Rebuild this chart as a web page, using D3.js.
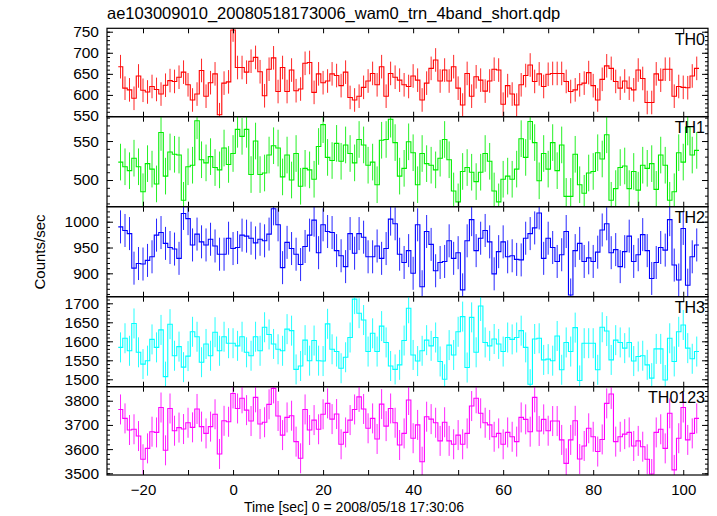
<!DOCTYPE html>
<html><head><meta charset="utf-8">
<script src="https://cdn.jsdelivr.net/npm/d3@7"></script>
<style>body{margin:0;background:#fff}svg{display:block}</style>
</head><body>
<svg id="c" width="717" height="516"></svg>
<script>
const times = [-25,-24,-23,-22,-21,-20,-19,-18,-17,-16,-15,-14,-13,-12,-11,-10,-9,-8,-7,-6,-5,-4,-3,-2,-1,
0,1,2,3,4,5,6,7,8,9,10,11,12,13,14,15,16,17,18,19,20,21,22,23,24,25,26,27,28,29,30,31,32,33,34,35,36,37,38,39,
40,41,42,43,44,45,46,47,48,49,50,51,52,53,54,55,56,57,58,59,60,61,62,63,64,65,66,67,68,69,70,71,72,73,74,75,76,77,78,79,
80,81,82,83,84,85,86,87,88,89,90,91,92,93,94,95,96,97,98,99,100,101,102,103];

const th0 = [667,616,612,592,645,611,607,620,613,602,623,634,632,642,654,624,588,602,658,597,629,650,553,628,631,
754,665,665,654,680,689,655,598,661,688,608,665,608,659,610,614,675,677,606,650,629,633,650,646,622,654,594,588,597,618,633,651,624,667,597,651,642,635,624,620,
645,635,588,628,663,683,633,659,633,667,616,576,651,597,643,635,609,633,661,659,578,622,602,576,624,646,671,632,650,620,649,651,651,651,632,608,612,624,628,653,
622,588,637,669,663,632,616,633,616,612,659,639,582,582,650,635,661,661,597,620,618,617,645,663];

const th1 = [523,517,512,528,517,485,521,514,495,561,505,536,533,532,474,517,519,576,526,522,530,516,513,541,520,
534,565,556,565,507,550,507,509,532,544,541,504,532,500,534,492,515,513,501,543,571,529,525,547,524,545,534,522,552,545,519,523,494,551,552,578,548,505,515,549,
535,494,534,521,519,513,528,552,526,486,472,511,516,510,498,510,534,524,486,472,501,505,501,514,553,529,575,548,499,534,514,548,512,545,479,479,533,494,483,509,
511,535,527,558,474,489,516,518,489,511,487,519,515,521,488,532,519,474,485,535,523,568,532,538];

const th2 = [990,983,977,910,919,918,925,932,974,979,958,950,947,929,1016,1006,955,976,961,955,966,953,937,937,968,
948,950,974,972,968,959,966,963,976,1025,994,911,960,948,937,917,952,974,1003,940,994,981,979,944,934,913,977,939,977,970,932,932,953,929,948,1005,996,937,921,944,
900,994,874,981,956,905,921,923,963,929,940,868,963,1004,944,968,983,961,899,942,961,932,934,927,926,968,977,988,1017,929,968,950,923,936,981,858,944,958,923,930,
923,941,984,996,940,946,913,942,972,923,936,975,944,890,921,950,945,1004,916,887,987,877,932,955];

const th3 = [1584,1608,1575,1647,1571,1540,1549,1605,1584,1630,1507,1645,1562,1586,1532,1561,1625,1612,1545,1593,1562,1624,1575,1612,1595,
1595,1588,1612,1571,1562,1612,1575,1637,1618,1593,1579,1575,1632,1628,1526,1535,1603,1549,1602,1549,1548,1646,1579,1573,1529,1558,1610,1711,1674,1656,1573,1621,1573,1640,1597,1535,1526,1538,1602,1687,
1564,1548,1575,1603,1588,1610,1547,1500,1590,1564,1625,1665,1531,1663,1571,1693,1597,1588,1606,1593,1573,1610,1605,1610,1628,1584,1487,1606,1608,1551,1553,1549,1614,1525,1597,1573,1636,1497,1595,1595,
1595,1525,1637,1627,1551,1603,1597,1582,1597,1548,1560,1562,1538,1503,1580,1580,1498,1608,1547,1625,1643,1582,1554,1573];

const th0123 = [3764,3727,3679,3682,3654,3558,3603,3672,3669,3772,3595,3768,3676,3689,3683,3709,3690,3766,3693,3665,3693,3744,3580,3717,3713,
3830,3768,3810,3761,3716,3814,3704,3711,3785,3851,3737,3658,3731,3738,3631,3562,3764,3679,3720,3682,3744,3789,3724,3745,3620,3669,3720,3764,3816,3766,3686,3727,3642,3786,3695,3768,3709,3617,3665,3803,
3645,3700,3548,3734,3724,3709,3634,3711,3634,3620,3658,3620,3665,3778,3810,3748,3709,3700,3651,3665,3620,3669,3651,3631,3731,3723,3672,3814,3675,3723,3676,3716,3716,3638,3541,3638,3717,3559,3613,3686,
3651,3590,3640,3789,3828,3631,3651,3662,3669,3613,3634,3610,3558,3497,3669,3682,3603,3748,3514,3645,3772,3638,3665,3727];

const panelNames = ["TH0","TH1","TH2","TH3","TH0123"];
const panelSeries = [th0, th1, th2, th3, th0123];
const panelErrors = [28, 23.5, 32, 39.5, 62];
const panelColors = ["#ff0000","#00ee00","#0000ff","#00ffff","#ff00ff"];
const panelDomains = [[548.3,758.1],[465.8,581.2],[854.7,1029.1],[1480.5,1717.4],[3493,3858]];
const panelMajorTicks = [[550,600,650,700,750],[500,550],[900,950,1000],[1500,1550,1600,1650,1700],[3500,3600,3700,3800]];
const panelMinorStep = [10,10,10,10,20];
const xDomain = [-28, 105.5];
const xTickValues = [-20,-10,0,10,20,30,40,50,60,70,80,90,100];
const xLabelValues = [-20,0,20,40,60,80,100];
const titleText = "ae103009010_20080518173006_wam0_trn_4band_short.qdp";
const xAxisTitle = "Time [sec] 0 = 2008/05/18 17:30:06";
const yAxisTitle = "Counts/sec";

const FONT = "'Liberation Sans', Arial, Helvetica, sans-serif";
const L = 107, R = 708;
const panelEdges = [28.3, 116.7, 206.7, 296.7, 386.7, 475];
const svg = d3.select("#c");
const x = d3.scaleLinear().domain(xDomain).range([L, R]);

panelNames.forEach((name, i) => {
  const top = panelEdges[i], bot = panelEdges[i+1];
  const y = d3.scaleLinear().domain(panelDomains[i]).range([bot, top]);
  const vals = panelSeries[i], err = panelErrors[i], col = panelColors[i];
  const g = svg.append("g");
  const cid = "clip" + i;
  svg.append("clipPath").attr("id", cid).append("rect")
    .attr("x", L).attr("y", top).attr("width", R - L).attr("height", bot - top);
  const dg = g.append("g").attr("clip-path", `url(#${cid})`);
  dg.selectAll("line.err").data(times).enter().append("line")
    .attr("x1", t => x(t)).attr("x2", t => x(t))
    .attr("y1", (t, k) => y(vals[k] - err)).attr("y2", (t, k) => y(vals[k] + err))
    .attr("stroke", col).attr("stroke-width", 1).attr("stroke-opacity", 0.85);
  const pts = [];
  times.forEach((t, k) => { pts.push([t - 0.5, vals[k]]); pts.push([t + 0.5, vals[k]]); });
  dg.append("path").datum(pts)
    .attr("d", d3.line().x(d => x(d[0])).y(d => y(d[1])))
    .attr("fill", "none").attr("stroke", col).attr("stroke-width", 1.1);

  const [d0, d1] = panelDomains[i];
  const st = panelMinorStep[i];
  const minors = [];
  for (let v = Math.ceil(d0 / st) * st; v <= d1; v += st) minors.push(v);
  const ya = g.append("g").attr("transform", `translate(${L},0)`)
    .call(d3.axisLeft(y).tickValues(panelMajorTicks[i]).tickSize(-6).tickPadding(8).tickFormat(d3.format("d")));
  const yam = g.append("g").attr("transform", `translate(${L},0)`)
    .call(d3.axisLeft(y).tickValues(minors).tickSize(-3).tickFormat(""));
  const yr = g.append("g").attr("transform", `translate(${R},0)`)
    .call(d3.axisRight(y).tickValues(panelMajorTicks[i]).tickSize(-6).tickFormat(""));
  const yrm = g.append("g").attr("transform", `translate(${R},0)`)
    .call(d3.axisRight(y).tickValues(minors).tickSize(-3).tickFormat(""));
  const xb = g.append("g").attr("transform", `translate(0,${bot})`)
    .call(d3.axisBottom(x).tickValues(xTickValues).tickSize(-5).tickPadding(9)
      .tickFormat(v => (i === 4 && xLabelValues.includes(v)) ? (v < 0 ? "\u2212" + (-v) : String(v)) : ""));
  const xt = g.append("g").attr("transform", `translate(0,${top})`)
    .call(d3.axisTop(x).tickValues(xTickValues).tickSize(-5).tickFormat(""));
  [ya, yam, yr, yrm, xb, xt].forEach(a => {
    a.select(".domain").remove();
    a.selectAll("line").attr("stroke", "#000").attr("stroke-width", 1);
    a.selectAll("text").attr("font-family", FONT).attr("font-size", 15).attr("fill", "#000");
  });
  ya.selectAll("text").attr("font-size", 15.5);
  g.append("rect").attr("x", L).attr("y", top).attr("width", R - L).attr("height", bot - top)
    .attr("fill", "none").attr("stroke", "#000").attr("stroke-width", 1.2);
  g.append("text").attr("x", 705).attr("y", top + 16.5).attr("text-anchor", "end")
    .attr("font-family", FONT).attr("font-size", 16).attr("fill", "#000").text(name);
});

svg.append("text").attr("x", 107).attr("y", 19).attr("font-family", FONT).attr("font-size", 16.5)
  .attr("fill", "#000").text(titleText);
svg.append("text").attr("x", 354).attr("y", 512).attr("text-anchor", "middle").attr("font-family", FONT)
  .attr("font-size", 14).attr("fill", "#000").text(xAxisTitle);
svg.append("text").attr("transform", "translate(45,252) rotate(-90)").attr("text-anchor", "middle")
  .attr("font-family", FONT).attr("font-size", 15).attr("fill", "#000").text(yAxisTitle);
</script>
</body></html>
